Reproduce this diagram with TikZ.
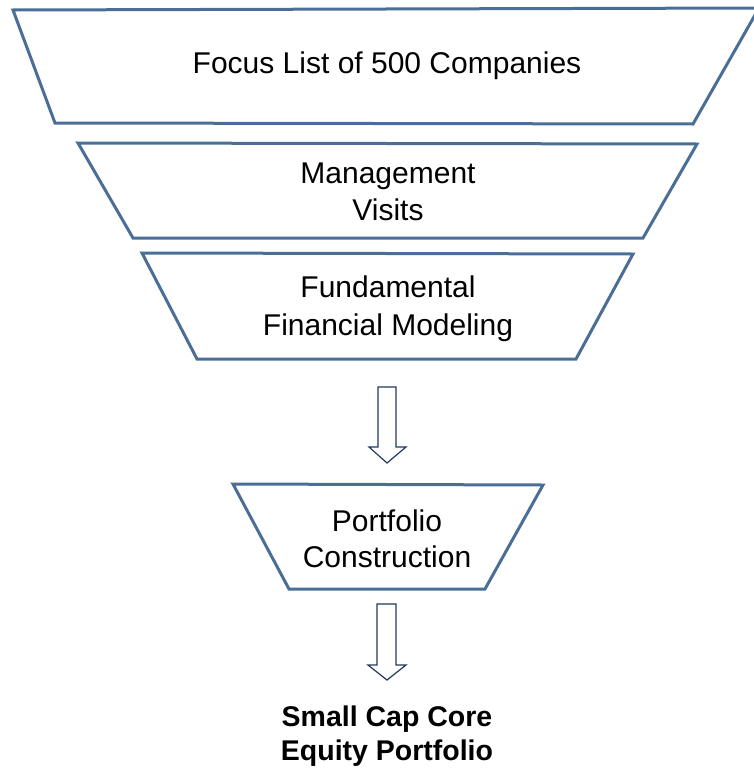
\documentclass[tikz,border=0pt]{standalone}
\usepackage{fontspec}
\setmainfont{Liberation Sans}
\definecolor{funnel}{HTML}{4A6E96}
\definecolor{arrowc}{HTML}{1F3A5F}
\tikzset{
  stage/.style={draw=funnel, line width=3pt, line join=miter, fill=white},
  flowarrow/.style={draw=arrowc, line width=1.2pt, fill=white, line join=miter},
  label/.style={font=\fontsize{30}{37}\selectfont, align=center, inner sep=0pt, anchor=base},
  result/.style={font=\fontsize{28.5}{35}\selectfont\bfseries, align=center, inner sep=0pt, anchor=base}
}
\begin{document}
\begin{tikzpicture}[x=1pt,y=-1pt]
\useasboundingbox (0,0) rectangle (754,771);
% stage 1
\coordinate (a1) at (13,10); \coordinate (a2) at (759,8);
\coordinate (a3) at (693,124); \coordinate (a4) at (55,123);
\draw[stage] (a1) -- (a2) -- (a3) -- (a4) -- cycle;
\node[label] (t1) at (387,73) {Focus List of 500 Companies};
% stage 2
\coordinate (b1) at (78,143); \coordinate (b2) at (697,144);
\coordinate (b3) at (643,238); \coordinate (b4) at (133,238);
\draw[stage] (b1) -- (b2) -- (b3) -- (b4) -- cycle;
\node[label] (t2) at (388,183) {Management};
\node[label] (t2b) at (388,220) {Visits};
% stage 3
\coordinate (c1) at (142,253); \coordinate (c2) at (633,254);
\coordinate (c3) at (576,359); \coordinate (c4) at (197,359);
\draw[stage] (c1) -- (c2) -- (c3) -- (c4) -- cycle;
\node[label] (t3) at (388,297) {Fundamental};
\node[label] (t3b) at (388,335) {Financial Modeling};
% arrow 1
\draw[flowarrow] (378,387) -- (396,387) -- (396,447) -- (406,447) -- (387,463) -- (369,447) -- (378,447) -- cycle;
% stage 4
\coordinate (d1) at (233,484); \coordinate (d2) at (543,485);
\coordinate (d3) at (485,589); \coordinate (d4) at (289,589);
\draw[stage] (d1) -- (d2) -- (d3) -- (d4) -- cycle;
\node[label] (t4) at (387,531) {Portfolio};
\node[label] (t4b) at (387,567) {Construction};
% arrow 2
\draw[flowarrow] (377,604) -- (396,604) -- (396,665) -- (406,665) -- (387,680) -- (368,665) -- (377,665) -- cycle;
% result
\node[result] (r1) at (387,726) {Small Cap Core};
\node[result] (r2) at (387,760) {Equity Portfolio};
\end{tikzpicture}
\end{document}
